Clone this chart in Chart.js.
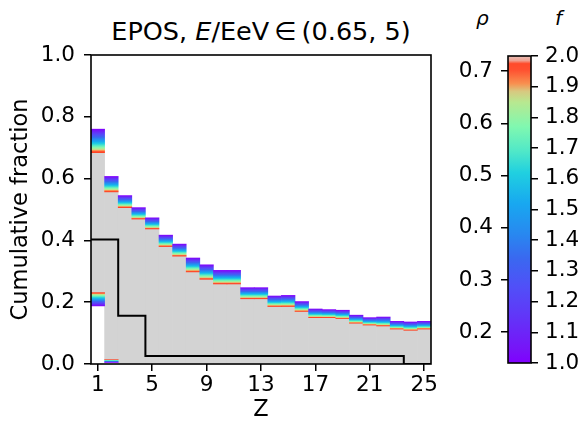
<!DOCTYPE html>
<html lang="en">
<head>
<meta charset="UTF-8">
<title>EPOS cumulative fraction</title>
<script src="https://cdn.jsdelivr.net/npm/chart.js"></script>
<style>
  body { margin: 0; width: 581px; height: 426px; background: #fff; position: relative; overflow: hidden;
         font-family: 'DejaVu Sans', sans-serif; color: #000; }
  #main { position: absolute; left: 0; top: 0; }
  #cbar { position: absolute; left: 445px; top: 0; }
  .title { position: absolute; left: 61px; width: 400px; top: 16px; text-align: center; font-size: 25.5px; white-space: nowrap; line-height: 30px; }
  .cb-head { position: absolute; top: 6px; font-size: 20px; font-style: italic; }
</style>
</head>
<body>
<div class="title">EPOS, <i>E</i>/EeV&#8201;&#8712;&#8201;(0.65, 5)</div>
<div class="cb-head" style="left:476px">&rho;</div>
<div class="cb-head" style="left:555px">f</div>
<canvas id="main" width="445" height="426"></canvas>
<canvas id="cbar" width="136" height="426"></canvas>
<script>
// chart data
const zValues = [1, 2, 3, 4, 5, 6, 7, 8, 9, 10, 11, 12, 13, 14, 15, 16, 17, 18, 19, 20, 21, 22, 23, 24, 25];
// upper curve, f = 1.0 (top of band) and f = 2.0 (bottom of band)
const upperF1 = [0.760, 0.607, 0.545, 0.506, 0.473, 0.417, 0.388, 0.343, 0.321, 0.303, 0.303, 0.247, 0.247,
                 0.220, 0.222, 0.202, 0.178, 0.176, 0.174, 0.158, 0.150, 0.152, 0.138, 0.136, 0.138];
const upperF2 = [0.684, 0.557, 0.506, 0.469, 0.437, 0.380, 0.349, 0.298, 0.274, 0.259, 0.259, 0.211, 0.211,
                 0.186, 0.186, 0.170, 0.150, 0.150, 0.147, 0.132, 0.126, 0.123, 0.113, 0.109, 0.113];
// lower curve
const lowerF1 = [0.188, 0.005, 0, 0, 0, 0, 0, 0, 0, 0, 0, 0, 0, 0, 0, 0, 0, 0, 0, 0, 0, 0, 0, 0, 0];
const lowerF2 = [0.231, 0.014, 0, 0, 0, 0, 0, 0, 0, 0, 0, 0, 0, 0, 0, 0, 0, 0, 0, 0, 0, 0, 0, 0, 0];
// black step line
const blackCurve = [0.403, 0.403, 0.156, 0.156, 0.026, 0.026, 0.026, 0.026, 0.026, 0.026, 0.026, 0.026, 0.026,
                    0.026, 0.026, 0.026, 0.026, 0.026, 0.026, 0.026, 0.026, 0.026, 0.026, 0, 0];

const xTicks = [1, 5, 9, 13, 17, 21, 25];
const yTicks = [0, 0.2, 0.4, 0.6, 0.8, 1.0];
const fRange = [1.0, 2.0];
const fTicks = [1.0, 1.1, 1.2, 1.3, 1.4, 1.5, 1.6, 1.7, 1.8, 1.9, 2.0];
const rhoRange = [0.141, 0.729];
const rhoTicks = [0.2, 0.3, 0.4, 0.5, 0.6, 0.7];

// colormap, purple (f = 1) -> red (f = 2)
const cmapStops = [
  [0.00, '#8000ff'], [0.04, '#7812f8'], [0.16, '#6038f8'], [0.25, '#5050f8'],
  [0.34, '#3a68f0'], [0.42, '#2888f0'], [0.52, '#18a8f0'], [0.62, '#20d0e0'],
  [0.69, '#50e8c8'], [0.77, '#80f8b0'], [0.85, '#b8e890'], [0.885, '#d8c880'],
  [0.91, '#f89050'], [0.955, '#ff5030'], [1.00, '#ff4020']
];
const cbarTop = [[0.975, '#ff4a2a'], [0.985, '#f0a090'], [1.00, '#e8c0b8']];

const tickFont = { family: 'DejaVu Sans', size: 21.5 };
const labelFont = { family: 'DejaVu Sans', size: 22.5 };

function gradientBetween(chart, scale, vPurple, vRed, stops) {
  const p0 = scale.getPixelForValue(vPurple);
  const p1 = scale.getPixelForValue(vRed);
  if (!isFinite(p0) || !isFinite(p1) || Math.abs(p1 - p0) < 0.5) return 'rgba(0,0,0,0)';
  const g = chart.ctx.createLinearGradient(0, p0, 0, p1);
  stops.forEach(s => g.addColorStop(s[0], s[1]));
  return g;
}

function bandColor(context) {
  const raw = context.raw;
  if (!raw || !context.chart.scales.y) return 'rgba(0,0,0,0)';
  return gradientBetween(context.chart, context.chart.scales.y, raw.f1, raw.f2, cmapStops);
}

const frame = {
  id: 'frame',
  afterDraw(chart) {
    const { ctx, chartArea: a } = chart;
    ctx.save();
    ctx.strokeStyle = '#000';
    ctx.lineWidth = 1.6;
    ctx.strokeRect(a.left, a.top, a.right - a.left, a.bottom - a.top);
    ctx.restore();
  }
};

const upperBand = zValues.map((z, i) => ({ x: z, y: [upperF2[i], upperF1[i]], f1: upperF1[i], f2: upperF2[i] }));
const lowerBand = zValues.map((z, i) => ({ x: z, y: [lowerF1[i], lowerF2[i]], f1: lowerF1[i], f2: lowerF2[i] }));
const grayFill = zValues.map((z, i) => ({ x: z, y: [lowerF2[i], upperF2[i]] }));
const blackSteps = zValues.map((z, i) => ({ x: z - 0.5, y: blackCurve[i] }));
blackSteps.push({ x: zValues[zValues.length - 1] + 0.5, y: blackCurve[blackCurve.length - 1] });

const barCommon = { grouped: false, barPercentage: 1, categoryPercentage: 1, borderWidth: 0 };

new Chart(document.getElementById('main'), {
  type: 'bar',
  data: {
    datasets: [
      { type: 'line', data: blackSteps, stepped: 'before', borderColor: '#000', borderWidth: 2,
        pointRadius: 0, fill: false, order: 0 },
      Object.assign({ data: upperBand, backgroundColor: bandColor, order: 1 }, barCommon),
      Object.assign({ data: lowerBand, backgroundColor: bandColor, order: 1 }, barCommon),
      Object.assign({ data: grayFill, backgroundColor: '#d3d3d3', order: 2 }, barCommon)
    ]
  },
  options: {
    responsive: false,
    devicePixelRatio: 1,
    animation: false,
    layout: { padding: { top: 55, right: 14, left: 0, bottom: 0 } },
    plugins: { legend: { display: false }, tooltip: { enabled: false } },
    scales: {
      x: {
        type: 'linear', min: 0.5, max: 25.5, offset: false,
        afterBuildTicks: s => { s.ticks = xTicks.map(v => ({ value: v })); },
        afterFit: s => { s.height = 62; },
        ticks: { color: '#000', font: tickFont, padding: 2, maxRotation: 0, callback: v => String(v) },
        grid: { offset: false, drawOnChartArea: false, drawTicks: true, tickLength: 7, color: '#000', lineWidth: 1.5 },
        border: { display: false },
        title: { display: true, text: 'Z', color: '#000', font: labelFont, padding: { bottom: 2 } }
      },
      y: {
        type: 'linear', min: 0, max: 1,
        afterBuildTicks: s => { s.ticks = yTicks.map(v => ({ value: v })); },
        afterFit: s => { s.width = 91; },
        ticks: { color: '#000', font: tickFont, padding: 9, callback: v => v.toFixed(1) },
        grid: { drawOnChartArea: false, drawTicks: true, tickLength: 7, color: '#000', lineWidth: 1.5 },
        border: { display: false },
        title: { display: true, text: 'Cumulative fraction', color: '#000', font: labelFont, padding: { top: 8 } }
      }
    }
  },
  plugins: [frame]
});

// colorbar
new Chart(document.getElementById('cbar'), {
  type: 'bar',
  data: {
    labels: ['f'],
    datasets: [{
      data: [fRange],
      yAxisID: 'f',
      barPercentage: 1, categoryPercentage: 1, borderWidth: 0,
      backgroundColor: ctx => {
        const sc = ctx.chart.scales.f;
        if (!sc) return 'rgba(0,0,0,0)';
        return gradientBetween(ctx.chart, sc, fRange[0], fRange[1], cmapStops.slice(0, -1).concat(cbarTop));
      }
    }]
  },
  options: {
    responsive: false,
    devicePixelRatio: 1,
    animation: false,
    layout: { padding: { top: 56, bottom: 63, left: 0, right: 0 } },
    plugins: { legend: { display: false }, tooltip: { enabled: false } },
    scales: {
      x: { display: false },
      rho: {
        type: 'linear', position: 'left', min: rhoRange[0], max: rhoRange[1],
        afterBuildTicks: s => { s.ticks = rhoTicks.map(v => ({ value: v })); },
        afterFit: s => { s.width = 63; },
        ticks: { color: '#000', font: tickFont, padding: 8, callback: v => v.toFixed(1) },
        grid: { drawOnChartArea: false, drawTicks: true, tickLength: 7, color: '#000', lineWidth: 1.5 },
        border: { display: false }
      },
      f: {
        type: 'linear', position: 'right', min: fRange[0], max: fRange[1],
        afterBuildTicks: s => { s.ticks = fTicks.map(v => ({ value: v })); },
        afterFit: s => { s.width = 50; },
        ticks: { color: '#000', font: tickFont, padding: 7, callback: v => v.toFixed(1) },
        grid: { drawOnChartArea: false, drawTicks: true, tickLength: 7, color: '#000', lineWidth: 1.5 },
        border: { display: false }
      }
    }
  },
  plugins: [frame]
});
</script>
</body>
</html>
